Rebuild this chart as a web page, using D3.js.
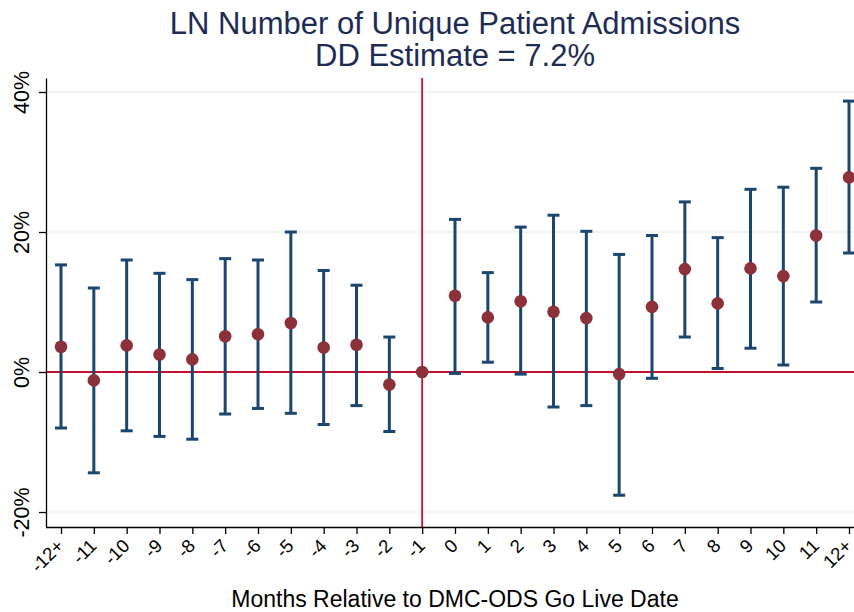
<!DOCTYPE html>
<html>
<head>
<meta charset="utf-8">
<script src="https://cdn.jsdelivr.net/npm/d3@7"></script>
<style>
  body { margin: 0; background: #fff; }
  svg { display: block; font-family: "Liberation Sans", Arial, sans-serif; }
</style>
</head>
<body>
<svg id="chart" width="854" height="612"></svg>
<script>
const categories = ["-12+","-11","-10","-9","-8","-7","-6","-5","-4","-3","-2","-1","0","1","2","3","4","5","6","7","8","9","10","11","12+"];
const estimates = [3.6,-1.2,3.8,2.5,1.8,5.1,5.4,7.0,3.5,3.9,-1.8,0,10.9,7.8,10.1,8.6,7.7,-0.3,9.3,14.7,9.8,14.8,13.7,19.5,27.8];
const upper = [15.3,12.0,16.0,14.1,13.2,16.2,16.0,20.0,14.5,12.4,5.0,null,21.8,14.2,20.7,22.4,20.1,16.8,19.5,24.3,19.2,26.1,26.4,29.1,38.7];
const lower = [-8.0,-14.4,-8.4,-9.2,-9.6,-6.0,-5.2,-5.9,-7.5,-4.8,-8.5,null,-0.2,1.4,-0.3,-5.0,-4.8,-17.6,-0.9,5.0,0.5,3.4,1.0,10.0,17.0];
const yTicks = [-20, 0, 20, 40];
const titleLines = ["LN Number of Unique Patient Admissions", "DD Estimate = 7.2%"];
const xTitle = "Months Relative to DMC-ODS Go Live Date";
const refCategory = "-1";

const data = categories.map((c, i) => ({cat: c, est: estimates[i], hi: upper[i], lo: lower[i]}));

const svg = d3.select("#chart");
const plot = {left: 46, right: 854, top: 78, bottom: 527};

const x = d3.scalePoint().domain(categories).range([61, 849]);
const y = d3.scaleLinear().domain([-22.14, 42]).range([plot.bottom, plot.top]);

// gridlines
svg.append("g").selectAll("line").data(yTicks.filter(t => t !== 0)).join("line")
  .attr("x1", plot.left).attr("x2", plot.right)
  .attr("y1", d => y(d)).attr("y2", d => y(d))
  .attr("stroke", "#eaf0f2").attr("stroke-width", 1.6);

// reference lines
const red = "#c8102e";
svg.append("line")
  .attr("x1", plot.left).attr("x2", plot.right)
  .attr("y1", y(0)).attr("y2", y(0))
  .attr("stroke", red).attr("stroke-width", 1.8);
svg.append("line")
  .attr("x1", x(refCategory)).attr("x2", x(refCategory))
  .attr("y1", plot.top).attr("y2", plot.bottom)
  .attr("stroke", red).attr("stroke-width", 1.8);

// error bars
const barColor = "#1a4670";
const capHalf = 6;
const eb = svg.append("g").selectAll("g").data(data.filter(d => d.hi !== null)).join("g");
eb.append("line")
  .attr("x1", d => x(d.cat)).attr("x2", d => x(d.cat))
  .attr("y1", d => y(d.hi)).attr("y2", d => y(d.lo))
  .attr("stroke", barColor).attr("stroke-width", 3);
eb.append("line")
  .attr("x1", d => x(d.cat) - capHalf).attr("x2", d => x(d.cat) + capHalf)
  .attr("y1", d => y(d.hi)).attr("y2", d => y(d.hi))
  .attr("stroke", barColor).attr("stroke-width", 3);
eb.append("line")
  .attr("x1", d => x(d.cat) - capHalf).attr("x2", d => x(d.cat) + capHalf)
  .attr("y1", d => y(d.lo)).attr("y2", d => y(d.lo))
  .attr("stroke", barColor).attr("stroke-width", 3);

// points
svg.append("g").selectAll("circle").data(data).join("circle")
  .attr("cx", d => x(d.cat)).attr("cy", d => y(d.est)).attr("r", 6.3)
  .attr("fill", "#8c3139");

// y axis
const yAxis = svg.append("g")
  .attr("transform", `translate(${plot.left},0)`)
  .call(d3.axisLeft(y).tickValues(yTicks).tickSize(7).tickSizeOuter(0).tickFormat(d => d + "%"));
yAxis.select(".domain").attr("stroke", "#000").attr("stroke-width", 1.3);
yAxis.selectAll(".tick line").attr("stroke", "#000").attr("stroke-width", 1.3);
yAxis.selectAll(".tick text")
  .attr("transform", "rotate(-90)")
  .attr("x", 0).attr("y", -17).attr("dy", 0)
  .attr("text-anchor", "middle")
  .attr("font-size", 21.5).attr("fill", "#000")
  .attr("font-family", "Liberation Sans, Arial, sans-serif");

// x axis
const xAxis = svg.append("g")
  .attr("transform", `translate(0,${plot.bottom})`)
  .call(d3.axisBottom(x).tickSize(7).tickSizeOuter(0));
xAxis.select(".domain").attr("d", `M${plot.left},0.5H${plot.right}`).attr("stroke", "#000").attr("stroke-width", 1.3);
xAxis.selectAll(".tick line").attr("stroke", "#000").attr("stroke-width", 1.3);
xAxis.selectAll(".tick text")
  .attr("transform", "translate(3.5,20) rotate(-45)")
  .attr("x", 0).attr("y", 0).attr("dy", 0)
  .attr("text-anchor", "end")
  .attr("font-size", 18.5).attr("fill", "#000")
  .attr("font-family", "Liberation Sans, Arial, sans-serif");

// titles
svg.append("g").selectAll("text").data(titleLines).join("text")
  .attr("x", 455).attr("y", (d, i) => 34 + i * 32)
  .attr("text-anchor", "middle")
  .attr("font-size", 31).attr("fill", "#1e2c55")
  .text(d => d);

svg.append("text")
  .attr("x", 455).attr("y", 607)
  .attr("text-anchor", "middle")
  .attr("font-size", 23).attr("fill", "#000")
  .text(xTitle);
</script>
</body>
</html>
